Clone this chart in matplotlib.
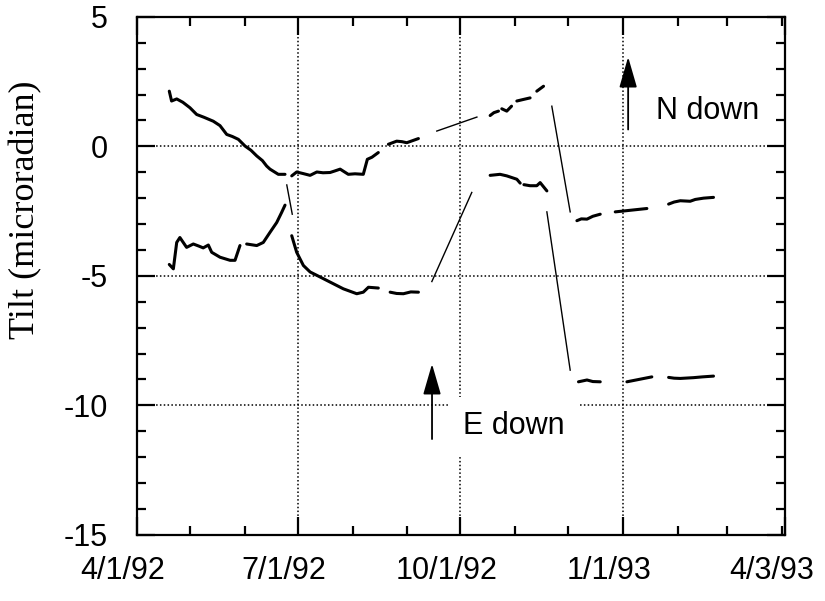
"""
Tilt record, 4/1/92 - 4/3/93: N and E components with offsets.
"""

import datetime as dt

import matplotlib
matplotlib.use('Agg')
import matplotlib.pyplot as plt
import matplotlib.dates as mdates
import matplotlib.transforms as mtrans
import numpy as np

plt.rcParams.update({
    'font.family': 'Liberation Sans',
    'axes.unicode_minus': False,
})

NAN = np.nan
START = dt.datetime(1992, 4, 1)
END = dt.datetime(1993, 4, 3)

# days since 4/1/92, NaN marks a data gap
n_days = [18.3, 19.6, 22.5, 26, 30, 33.8, 38, 43.2, 47, 50.8, 54, 57.4, 61.2,
          64.5, 67.8, 71, 73.4, 75.3, 80, 83.8, NAN,
          87.6, 90.4, 94, 98, 101.8, 105.3, 109.3, 112, 115, 119.6, 123.4,
          128.1, 130.4, 133, 136.6, NAN,
          142.3, 147, 150, 152.7, 156, 159.3, NAN,
          199.9, 202, 204.6, NAN, 206.5, 209.3, 212, NAN, 215, 218.7, 222.5,
          NAN, 226.3, 230.1, NAN,
          249, 251.5, 254.7, 258, 262.2, NAN,
          270.7, 288.6, NAN,
          300.9, 304, 307.5, 313.1, 316, 320.7, 326.3]
n_tilt = [2.13, 1.75, 1.83, 1.7, 1.49, 1.23, 1.12, 0.97, 0.8, 0.46, 0.38, 0.27,
          0.01, -0.15, -0.37, -0.55, -0.76, -0.88, -1.08, -1.08, NAN,
          -1.14, -0.99, -1.05, -1.12, -0.99, -1.02, -1.01, -0.95, -0.88, -1.08,
          -1.06, -1.08, -0.5, -0.42, -0.24, NAN,
          0.08, 0.2, 0.18, 0.14, 0.22, 0.3, NAN,
          1.19, 1.3, 1.36, NAN, 1.45, 1.36, 1.55, NAN, 1.75, 1.81, 1.87,
          NAN, 2.13, 2.32, NAN,
          -2.87, -2.8, -2.81, -2.7, -2.62, NAN,
          -2.53, -2.4, NAN,
          -2.23, -2.15, -2.1, -2.12, -2.05, -2.0, -1.97]

e_days = [18.3, 20.6, 22.5, 24.3, 28.1, 31.9, 35, 37.5, 40.4, 42.3, 47, 52.7,
          55.5, 58.3, NAN,
          62.1, 67.8, 71.5, 75.3, 79.1, 81.9, 83.8, NAN,
          87.6, 90.4, 94.2, 98, 101.8, 109.3, 116.8, 124.4, 128.1, 131, 136.6,
          NAN,
          143.3, 147, 150.8, 155, 159.3, NAN,
          199.9, 205.5, 209.3, 215, 216.9, NAN, 219, 222.5, 226.3, 228.2, 232,
          NAN,
          249.9, 254.7, 258, 262.2, NAN,
          277.3, 291.4, NAN,
          300.9, 304, 307.5, 315, 320, 326.3]
e_tilt = [-4.56, -4.73, -3.71, -3.52, -3.9, -3.77, -3.85, -3.92, -3.81, -4.09,
          -4.28, -4.4, -4.4, -3.83, NAN,
          -3.77, -3.83, -3.71, -3.32, -2.94, -2.55, -2.27, NAN,
          -3.45, -4.09, -4.6, -4.85, -4.98, -5.24, -5.5, -5.69, -5.63, -5.44,
          -5.47, NAN,
          -5.63, -5.68, -5.69, -5.62, -5.63, NAN,
          -1.12, -1.08, -1.14, -1.27, -1.42, NAN, -1.48, -1.52, -1.52, -1.4,
          -1.72, NAN,
          -9.09, -9.02, -9.08, -9.09, NAN,
          -9.09, -8.9, NAN,
          -8.92, -8.95, -8.96, -8.93, -8.9, -8.87]

# thin lines bridging the gaps
link_days = [169.7, 192.4, NAN, 234.8, 245.2, NAN,
             84.8, 87.9, NAN, 166.9, 189.5, NAN, 232, 245.2]
link_tilt = [0.59, 1.13, NAN, 1.55, -2.53, NAN,
             -1.49, -2.62, NAN, -5.22, -1.78, NAN, -2.53, -8.64]

y_ticks = [5, 0, -5, -10, -15]
x_ticks = [dt.datetime(1992, 4, 1), dt.datetime(1992, 7, 1),
           dt.datetime(1992, 10, 1), dt.datetime(1993, 1, 1),
           dt.datetime(1993, 4, 3)]
x_labels = ['4/1/92', '7/1/92', '10/1/92', '1/1/93', '4/3/93']


def to_dates(days):
    return mdates.date2num(START) + np.asarray(days, dtype=float)


fig = plt.figure(figsize=(8.25, 6.01), dpi=100)
ax = fig.add_axes([0.166, 0.110, 0.786, 0.862])

ax.plot(to_dates(n_days), n_tilt, color='black', lw=2.2,
        solid_joinstyle='round', solid_capstyle='round', zorder=4)
ax.plot(to_dates(e_days), e_tilt, color='black', lw=2.2,
        solid_joinstyle='round', solid_capstyle='round', zorder=4)
ax.plot(to_dates(link_days), link_tilt, color='black', lw=1.0, zorder=4)

ax.set_xlim(mdates.date2num(START), mdates.date2num(END))
ax.set_ylim(-15, 5)

ax.set_xticks(mdates.date2num(x_ticks))
ax.set_xticklabels(x_labels)
ax.xaxis.set_minor_locator(mdates.MonthLocator())
ax.set_yticks(y_ticks)
ax.set_yticklabels([str(v) for v in y_ticks])
ax.set_yticks(np.arange(-15, 6, 1), minor=True)

ax.tick_params(which='both', direction='in', top=True, right=True,
               labelsize=22, width=1.6, color='black')
ax.tick_params(which='major', length=13)
ax.tick_params(axis='x', which='major', pad=15)
ax.tick_params(axis='y', which='major', pad=21)
ax.tick_params(which='minor', length=6.5)
for s in ax.spines.values():
    s.set_linewidth(1.6)

# date labels sit a little left of their ticks
shift = mtrans.ScaledTranslation(-0.14, 0, fig.dpi_scale_trans)
for lbl in ax.get_xticklabels():
    lbl.set_transform(lbl.get_transform() + shift)

# dotted grid on interior major ticks only
for v in [0, -5, -10]:
    ax.axhline(v, color='black', lw=1.1, ls=(0, (1, 1.5)), zorder=1)
for d in x_ticks[1:4]:
    ax.axvline(mdates.date2num(d), color='black', lw=1.1, ls=(0, (1, 1.5)),
               zorder=1)

ax.set_ylabel('Tilt (microradian)', family='Liberation Serif', fontsize=26,
              va='center')
ax.yaxis.set_label_coords(-0.172, 0.627)

# direction arrows and labels
arrow = dict(arrowstyle='-|>,head_length=1.9,head_width=0.55',
             color='black', lw=1.3, shrinkA=0, shrinkB=0)
ax.annotate('', xy=(to_dates([278])[0], 3.45), xytext=(to_dates([278])[0], 0.65),
            arrowprops=arrow, zorder=5)
ax.text(to_dates([293.5])[0], 1.35, 'N down', fontsize=22, ha='left',
        va='center', zorder=5)
ax.annotate('', xy=(to_dates([167])[0], -8.4), xytext=(to_dates([167])[0], -11.3),
            arrowprops=arrow, zorder=5)
ax.text(to_dates([184.5])[0], -10.8, 'E down', fontsize=22, ha='left',
        va='center', zorder=5,
        bbox=dict(facecolor='white', edgecolor='none', pad=10))

fig.savefig('out.png', dpi=100, facecolor='white')
